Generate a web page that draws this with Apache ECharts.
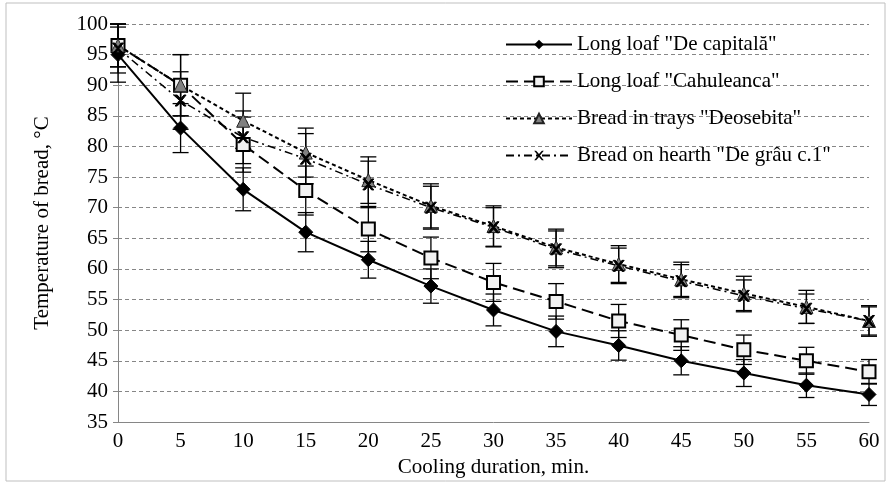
<!DOCTYPE html>
<html><head><meta charset="utf-8">
<script src="https://cdn.jsdelivr.net/npm/echarts@6/dist/echarts.min.js"></script>
<style>html,body{margin:0;padding:0;background:#fff}#c{width:891px;height:501px}</style>
</head><body><div id="c"></div>
<script>
const minutes = [0,5,10,15,20,25,30,35,40,45,50,55,60];
const seriesNames = ['Long loaf "De capitală"','Long loaf "Cahuleanca"','Bread in trays "Deosebita"','Bread on hearth "De grâu c.1"'];
const capitala = [95,83,73,66,61.5,57.2,53.3,49.8,47.5,45,43,41,39.5];
const cahuleanca = [96.5,90,80.3,72.8,66.5,61.8,57.8,54.7,51.5,49.2,46.8,45,43.2];
const deosebita = [96.5,90,84.2,79,74.5,70.3,67,63.5,60.8,58.3,56,53.8,51.5];
const degrau = [96,87.5,81.5,78,73.8,70,66.8,63.2,60.5,58,55.6,53.5,51.5];
const errCapitala = [4.5,4,3.5,3.2,3,2.8,2.6,2.5,2.4,2.3,2.2,2,1.8];
const errCahuleanca = [3.5,5,4.5,4,3.7,3.4,3.1,2.9,2.7,2.5,2.4,2.2,2];
const errDeosebita = [3.5,5,4.5,4,3.8,3.6,3.3,3,3,2.8,2.8,2.7,2.5];
const errDegrau = [4,4.7,4.3,4.1,3.8,3.5,3.2,3,2.9,2.7,2.6,2.4,2.3];
const yTicks = [35,100,5];
const xTicks = [0,60,5];

const font = '"Liberation Serif","Times New Roman",serif';
const fs = 21;
const pairs = (v) => minutes.map((m,i)=>[m,v[i]]);
const errData = (v,e) => minutes.map((m,i)=>[m,v[i]-e[i],v[i]+e[i]]);

function errSeries(v,e){
  return {
    type:'custom', silent:true, z:1,
    data: errData(v,e),
    renderItem(params, api){
      const x = api.value(0);
      const lo = api.coord([x, api.value(1)]);
      const hi = api.coord([x, api.value(2)]);
      const w = 8;
      const st = {stroke:'#000', lineWidth:1.3};
      return {type:'group', children:[
        {type:'line', shape:{x1:lo[0],y1:lo[1],x2:hi[0],y2:hi[1]}, style:st},
        {type:'line', shape:{x1:lo[0]-w,y1:lo[1],x2:lo[0]+w,y2:lo[1]}, style:st},
        {type:'line', shape:{x1:hi[0]-w,y1:hi[1],x2:hi[0]+w,y2:hi[1]}, style:st}
      ]};
    }
  };
}

const xMark = 'path://M0,0 L2,0 L5,3.5 L8,0 L10,0 L6,5 L10,10 L8,10 L5,6.5 L2,10 L0,10 L4,5 Z';

const chart = echarts.init(document.getElementById('c'));
chart.setOption({
  animation:false,
  backgroundColor:'#fff',
  graphic:[{type:'rect', shape:{x:6,y:3,width:879,height:478}, style:{fill:'none', stroke:'#bfbfbf', lineWidth:1}, silent:true}],
  grid:{left:118, right:22, top:24, bottom:79},
  legend:{
    data:seriesNames, orient:'vertical', left:500, top:29, itemGap:16,
    itemWidth:66, itemHeight:12,
    textStyle:{fontFamily:font, fontSize:fs, color:'#000'}
  },
  xAxis:{
    type:'value', min:xTicks[0], max:xTicks[1], interval:xTicks[2],
    name:'Cooling duration, min.', nameLocation:'middle', nameGap:35,
    nameTextStyle:{fontFamily:font, fontSize:fs, color:'#000'},
    axisLine:{lineStyle:{color:'#868686'}}, axisTick:{show:false},
    axisLabel:{fontFamily:font, fontSize:fs, color:'#000', margin:9},
    splitLine:{show:false}
  },
  yAxis:{
    type:'value', min:yTicks[0], max:yTicks[1], interval:yTicks[2],
    name:'Temperature of bread, °C', nameLocation:'middle', nameGap:65,
    nameTextStyle:{fontFamily:font, fontSize:fs, color:'#000'},
    axisLine:{show:true, lineStyle:{color:'#868686'}},
    axisTick:{show:true, length:5, lineStyle:{color:'#868686'}},
    axisLabel:{fontFamily:font, fontSize:fs, color:'#000', margin:10},
    splitLine:{lineStyle:{color:'#868686', type:[4,3]}}
  },
  series:[
    errSeries(capitala, errCapitala),
    errSeries(cahuleanca, errCahuleanca),
    errSeries(deosebita, errDeosebita),
    errSeries(degrau, errDegrau),
    {name:seriesNames[0], type:'line', data:pairs(capitala), z:3,
     symbol:'diamond', symbolSize:14,
     lineStyle:{color:'#000', width:2}, itemStyle:{color:'#000', borderColor:'#000'}},
    {name:seriesNames[1], type:'line', data:pairs(cahuleanca), z:3,
     symbol:'rect', symbolSize:13,
     lineStyle:{color:'#000', width:2, type:[12,6]}, itemStyle:{color:'#f2f2f2', borderColor:'#000', borderWidth:2}},
    {name:seriesNames[2], type:'line', data:pairs(deosebita), z:3,
     symbol:'triangle', symbolSize:13,
     lineStyle:{color:'#000', width:2, type:[4,3]}, itemStyle:{color:'#808080', borderColor:'#222', borderWidth:1}},
    {name:seriesNames[3], type:'line', data:pairs(degrau), z:3,
     symbol:xMark, symbolSize:11,
     lineStyle:{color:'#000', width:1.5, type:[8,4,2,4]}, itemStyle:{color:'#000', borderColor:'#000'}}
  ]
});
</script></body></html>
